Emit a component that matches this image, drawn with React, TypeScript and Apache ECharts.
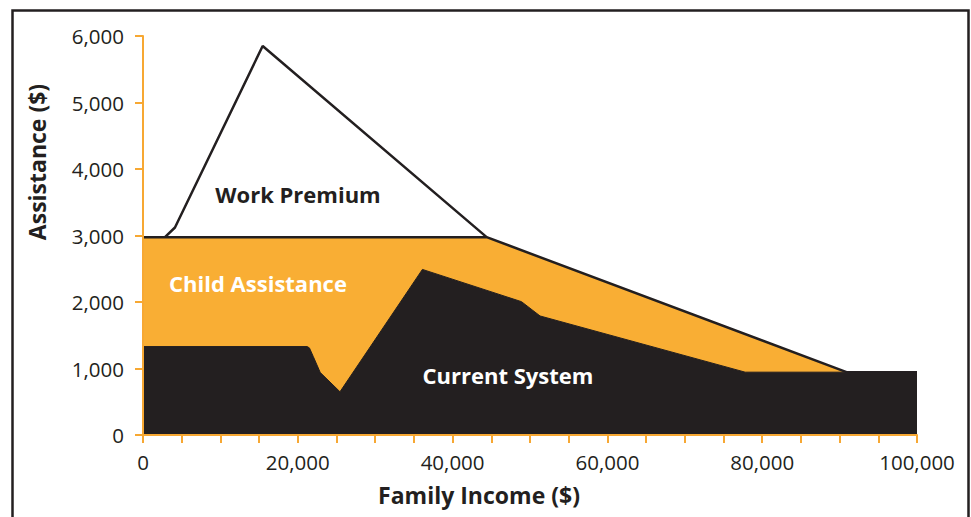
import React, { useEffect, useRef } from "react";
import * as echarts from "echarts";

// Family income ($) vs assistance ($)
const childAssistanceTop: [number, number][] = [
  [0, 2975], [44400, 2975], [90900, 945], [100000, 945],
];
const currentSystem: [number, number][] = [
  [0, 1330], [21200, 1330], [21500, 1310], [22000, 1180], [22900, 940],
  [25450, 650], [36100, 2490], [48900, 2005], [51300, 1790], [77800, 945],
  [100000, 945],
];
const workPremium: [number, number][] = [
  [2840, 2975], [4130, 3120], [15460, 5850], [44400, 2975],
];
const xLabelValues = [0, 20000, 40000, 60000, 80000, 100000];
const yTicks = [0, 1000, 2000, 3000, 4000, 5000, 6000];

const ORANGE = "#F9AE34";
const AXIS = "#F7A833";
const DARK = "#231F20";
const FONT = "'Open Sans', sans-serif";

const fmt = (v: number) => v.toLocaleString("en-US");

export default function App() {
  const ref = useRef<HTMLDivElement>(null);
  useEffect(() => {
    if (!ref.current) return;
    const chart = echarts.init(ref.current, undefined, { renderer: "svg" });
    chart.setOption({
      animation: false,
      backgroundColor: "#fff",
      grid: { left: 143, right: 54, top: 36, bottom: 82, containLabel: false },
      xAxis: {
        type: "value",
        min: 0,
        max: 100000,
        interval: 5000,
        z: 5,
        axisLine: { show: true, lineStyle: { color: AXIS, width: 2 } },
        axisTick: { show: true, length: 8, lineStyle: { color: AXIS, width: 2 } },
        splitLine: { show: false },
        axisLabel: {
          margin: 16,
          color: DARK,
          fontFamily: FONT,
          fontSize: 20.5,
          formatter: (v: number) => (xLabelValues.includes(v) ? fmt(v) : ""),
        },
      },
      yAxis: {
        type: "value",
        min: 0,
        max: 6000,
        interval: 1000,
        z: 5,
        axisLine: { show: true, lineStyle: { color: AXIS, width: 2 } },
        axisTick: { show: true, length: 8, lineStyle: { color: AXIS, width: 2 } },
        splitLine: { show: false },
        axisLabel: {
          margin: 19,
          color: DARK,
          fontFamily: FONT,
          fontSize: 20.5,
          formatter: (v: number) => (yTicks.includes(v) ? fmt(v) : ""),
        },
      },
      series: [
        {
          type: "line",
          name: "Child Assistance",
          data: childAssistanceTop,
          symbol: "none",
          lineStyle: { color: DARK, width: 2.5 },
          areaStyle: { color: ORANGE, opacity: 1, origin: "start" },
          z: 2,
        },
        {
          type: "line",
          name: "Current System",
          data: currentSystem,
          symbol: "none",
          lineStyle: { color: DARK, width: 1 },
          areaStyle: { color: DARK, opacity: 1, origin: "start" },
          z: 3,
        },
        {
          type: "line",
          name: "Work Premium",
          data: workPremium,
          symbol: "none",
          lineStyle: { color: DARK, width: 2.5 },
          z: 4,
        },
      ],
      graphic: [
        {
          type: "rect",
          shape: { x: 12.5, y: 10.5, width: 956, height: 540 },
          style: { fill: "none", stroke: DARK, lineWidth: 2.5 },
          z: 10,
        },
        {
          type: "text",
          x: 298,
          y: 194,
          style: { text: "Work Premium", fill: DARK, font: `bold 22px ${FONT}`, align: "center", verticalAlign: "middle" },
          z: 10,
        },
        {
          type: "text",
          x: 258,
          y: 283,
          style: { text: "Child Assistance", fill: "#fff", font: `bold 22px ${FONT}`, align: "center", verticalAlign: "middle" },
          z: 10,
        },
        {
          type: "text",
          x: 508,
          y: 375,
          style: { text: "Current System", fill: "#fff", font: `bold 22px ${FONT}`, align: "center", verticalAlign: "middle" },
          z: 10,
        },
        {
          type: "text",
          x: 479,
          y: 495,
          style: { text: "Family Income ($)", fill: DARK, font: `bold 23px ${FONT}`, align: "center", verticalAlign: "middle" },
          z: 10,
        },
        {
          type: "text",
          x: 37,
          y: 162,
          rotation: Math.PI / 2,
          style: { text: "Assistance ($)", fill: DARK, font: `bold 23px ${FONT}`, align: "center", verticalAlign: "middle" },
          z: 10,
        },
      ],
    });
    return () => chart.dispose();
  }, []);
  return (
    <div
      ref={ref}
      style={{ position: "absolute", left: 0, top: 0, width: 971, height: 517 }}
    />
  );
}
